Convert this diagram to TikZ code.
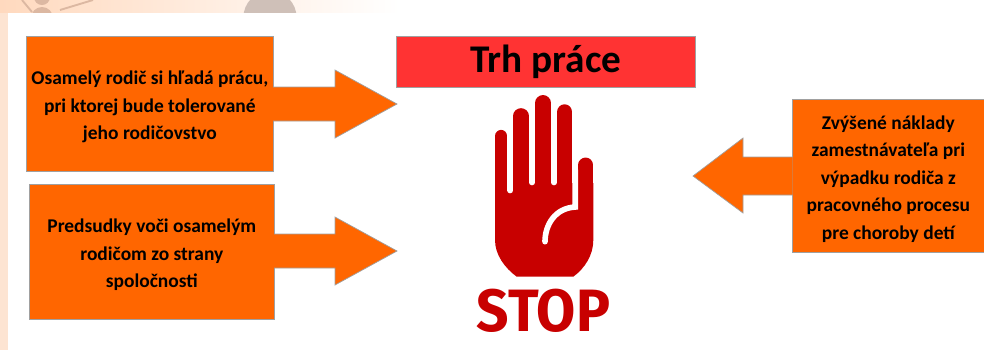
\documentclass[tikz,border=0pt]{standalone}
\usepackage{fontspec}
\setmainfont{Carlito}
\newfontfamily\stopfont{Fira Sans}
\definecolor{panelorange}{RGB}{255, 102, 0}
\definecolor{titlered}{RGB}{255, 51, 51}
\definecolor{handred}{RGB}{200, 0, 0}
\definecolor{peach}{RGB}{253, 228, 210}
\definecolor{deeppeach}{RGB}{255, 217, 190}
\definecolor{edgegray}{RGB}{160, 160, 160}
\definecolor{decorgray}{RGB}{207, 192, 184}
\definecolor{decortan}{RGB}{220, 184, 162}

\begin{document}
\begin{tikzpicture}[
      x=0.03cm, y=-0.03cm,
      box/.style={draw=edgegray, fill=panelorange, line width=0.6pt, inner sep=0pt,
                  font=\fontsize{16.6}{23.5}\selectfont\bfseries, align=center, anchor=north west},
      blockarrow/.style={draw=edgegray, fill=panelorange, line width=0.6pt},
      finger/.style={handred, line cap=round},
      crease/.style={white, line width=4.8pt, line cap=round}
    ]
      \useasboundingbox (0,0) rectangle (984,350);

      % Pozadie
      \fill[peach] (0,0) rectangle (8,350);
      \fill[left color=deeppeach, right color=white] (0,0) rectangle (400,12);
      \begin{scope}
        \clip (0,0) rectangle (400,12);
        \fill[decorgray] (270,17.5) circle (26.6);
        \fill[decortan] (42,-3) circle (8);
        \fill[decortan] (42,18) circle (11);
        \draw[decortan, line width=1.6pt] (22,0) -- (32,12);
        \draw[decortan, line width=1.6pt] (60,10) -- (93,0);
      \end{scope}

      % Nadpis
      \node[draw=edgegray, fill=titlered, line width=0.6pt, minimum width=299*0.03cm, minimum height=51*0.03cm,
            inner sep=0pt, font=\fontsize{33.5}{33.5}\selectfont\bfseries, anchor=north west] (title) at (396,36) {Trh práce};

      % Boxy
      \node[box, minimum width=247*0.03cm, minimum height=135*0.03cm] (parent) at (26,36)
        {\rule{0pt}{17pt}Osamelý rodič si hľadá prácu,\\pri ktorej bude tolerované\\jeho rodičovstvo};
      \node[box, minimum width=245*0.03cm, minimum height=135*0.03cm] (prejudice) at (29,184)
        {\rule{0pt}{17pt}Predsudky voči osamelým\\rodičom zo strany\\spoločnosti};
      \node[box, minimum width=192*0.03cm, minimum height=153*0.03cm] (costs) at (792,99)
        {\rule{0pt}{17pt}Zvýšené náklady\\zamestnávateľa pri\\výpadku rodiča z\\pracovného procesu\\pre choroby detí};

      % Šípky
      \coordinate (parenttip) at (397,104);
      \coordinate (prejudicetip) at (397,251);
      \coordinate (coststip) at (693,176);
      \path[blockarrow] ([xshift=-0.6pt]parent.east |- 0,87) -- (335,87) -- (335,70) -- (parenttip)
        -- (335,138) -- (335,121) -- ([xshift=-0.6pt]parent.east |- 0,121);
      \path[blockarrow] ([xshift=-0.6pt]prejudice.east |- 0,234) -- (335,234) -- (335,217) -- (prejudicetip)
        -- (335,285) -- (335,268) -- ([xshift=-0.6pt]prejudice.east |- 0,268);
      \path[blockarrow] ([xshift=0.6pt]costs.west |- 0,157) -- (743,157) -- (743,138) -- (coststip)
        -- (743,213) -- (743,195) -- ([xshift=0.6pt]costs.west |- 0,195);

      % Ruka
      \fill[handred] (495,183) -- (593.3,183) -- (593.3,240)
        .. controls (593.3,255) and (585,268) .. (573.3,276.7) -- (516.7,276.7)
        .. controls (505,268) and (495,255) .. (495,240) -- cycle;
      \draw[finger, line width=12.3*0.85pt] (501.2,136) -- (501.2,190);
      \draw[finger, line width=15.7*0.85pt] (521,116) -- (521,190);
      \draw[finger, line width=16*0.85pt] (543,103) -- (543,190);
      \draw[finger, line width=15.5*0.85pt] (564.7,112) -- (564.7,190);
      \draw[finger, line width=15*0.85pt] (585.8,165) -- (585.8,190);
      \draw[crease] (510.3,170) -- (510.3,190.5);
      \draw[crease] (532,170) -- (532,182.5);
      \draw[crease] (554,170) -- (554,182.5);
      \draw[crease] (575.3,170) -- (575.3,207) .. controls (555,208) and (545,225) .. (545,241.7);

      % STOP
      \node[font=\stopfont\fontsize{51}{51}\selectfont\bfseries, text=handred, inner sep=0pt, xscale=0.95] (stop) at (543.5,311) {STOP};
    \end{tikzpicture}
\end{document}
